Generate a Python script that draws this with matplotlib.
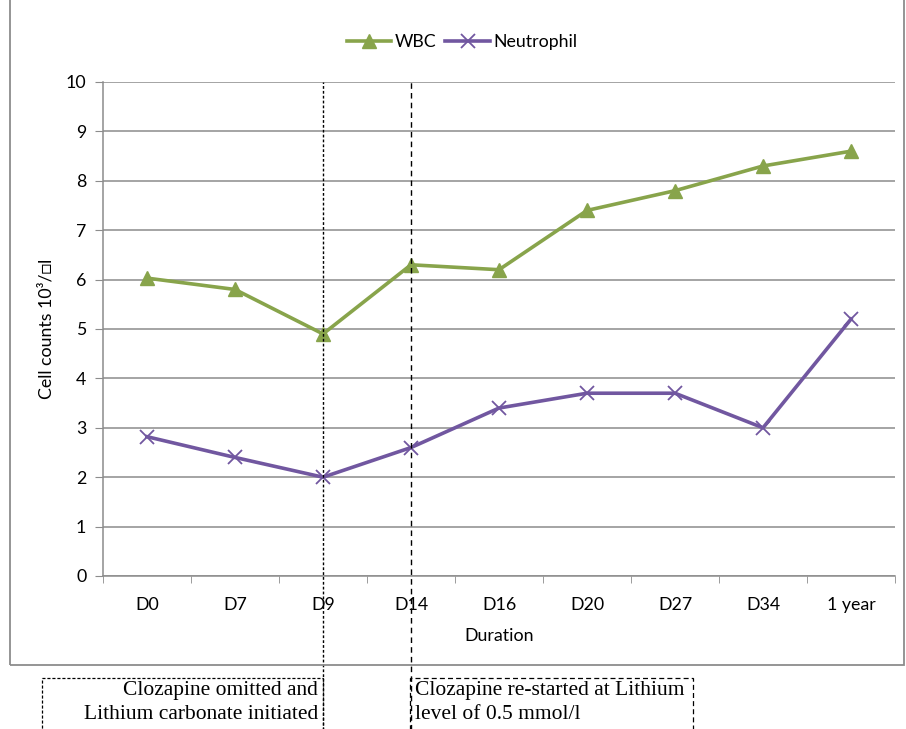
import matplotlib
matplotlib.use("Agg")
import matplotlib.pyplot as plt
from matplotlib.patches import Rectangle
import numpy as np

categories = ["D0", "D7", "D9", "D14", "D16", "D20", "D27", "D34", "1 year"]
wbc = [6.03, 5.8, 4.9, 6.3, 6.2, 7.4, 7.8, 8.3, 8.6]
neutrophil = [2.82, 2.4, 2.0, 2.6, 3.4, 3.7, 3.7, 3.0, 5.2]
event_days = ["D9", "D14"]
note_omitted = "Clozapine omitted and\nLithium carbonate initiated"
note_restart = "Clozapine re-started at Lithium\nlevel of 0.5 mmol/l"

green = "#88a44b"
purple = "#7157a0"
grid_grey = "#8c8c8c"
fs = 12.8

plt.rcParams['font.family'] = ['Lato', 'DejaVu Sans']

fig = plt.figure(figsize=(9.06, 7.29), dpi=100)
ax = fig.add_axes([103 / 906, 1 - 576 / 729, (895 - 103) / 906, (576 - 82) / 729])

x = np.arange(len(categories))
ax.plot(x, wbc, color=green, lw=2.6, marker="^", ms=10, mec=green, mfc=green, label="WBC", zorder=3)
ax.plot(x, neutrophil, color=purple, lw=2.6, marker="x", ms=10, mew=1.3, label="Neutrophil", zorder=3)

ax.set_xlim(-0.5, len(categories) - 0.5)
ax.set_ylim(0, 10)
ax.set_yticks(range(0, 11))
ax.yaxis.grid(True, color=grid_grey, lw=1.1)
ax.set_axisbelow(True)
ax.set_xticks(x)
ax.set_xticklabels(categories, fontsize=fs)
ax.set_xticks(np.arange(-0.5, len(categories)), minor=True)
ax.tick_params(axis="x", which="major", length=0, pad=15)
ax.tick_params(axis="x", which="minor", length=5, color=grid_grey, direction="out")
ax.tick_params(axis="y", length=6, color=grid_grey, labelsize=fs, pad=6)
for s in ["top", "right"]:
    ax.spines[s].set_visible(False)
for s in ["left", "bottom"]:
    ax.spines[s].set_color(grid_grey)
    ax.spines[s].set_linewidth(1.1)

ax.set_xlabel("Duration", fontsize=fs, labelpad=11)
ax.set_ylabel("Cell counts 10³/□l", fontsize=fs, labelpad=8,
              family=['Lato', 'DejaVu Sans'])

# event markers running down below the chart
for day, ls in zip(event_days, [(0, (2, 1.5)), (0, (4, 3))]):
    xi = categories.index(day)
    ax.axvline(xi, ymin=-0.32, ymax=1, color="black", lw=1, ls=ls, clip_on=False, zorder=4)

fig.legend(loc="center", ncol=2, frameon=False, fontsize=fs,
           bbox_to_anchor=(0.51, 1 - 42 / 729), handlelength=2.5, columnspacing=0.5,
           handletextpad=0.2)

# outer chart frame
fig.patches.append(Rectangle((10 / 906, 1 - 665 / 729), 894 / 906, 665 / 729 + 0.01,
                             transform=fig.transFigure, fill=False, ec="#8c8c8c", lw=1.3))

# annotation boxes
fig.patches.append(Rectangle((42 / 906, -0.05), (323 - 42) / 906, 0.05 + 1 - 678 / 729,
                             transform=fig.transFigure, fill=False, ec="black", lw=0.9,
                             ls=(0, (2.5, 1.5))))
fig.patches.append(Rectangle((410 / 906, -0.05), (693 - 410) / 906, 0.05 + 1 - 678 / 729,
                             transform=fig.transFigure, fill=False, ec="black", lw=0.9,
                             ls=(0, (4, 2.5))))
fig.text(318 / 906, 1 - 681 / 729, note_omitted, ha="right", va="top",
         family="Liberation Serif", fontsize=15.5, linespacing=1.35)
fig.text(415 / 906, 1 - 681 / 729, note_restart, ha="left", va="top",
         family="Liberation Serif", fontsize=15.5, linespacing=1.35)

fig.savefig("out.png", dpi=100)
